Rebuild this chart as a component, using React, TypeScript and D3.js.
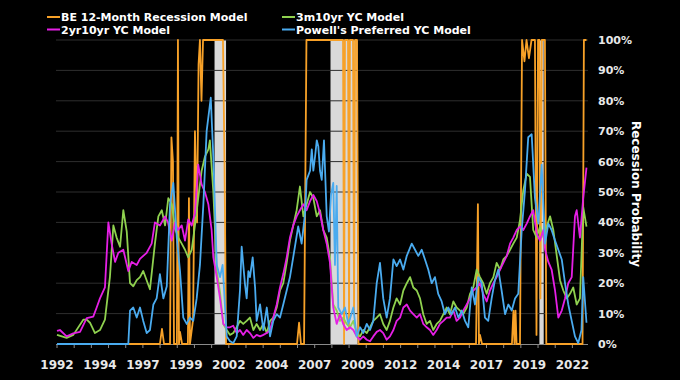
import React from "react";
import * as d3 from "d3";

// ---------- DATA ----------
const legendLabels = [
  "BE 12-Month Recession Model",
  "2yr10yr YC Model",
  "3m10yr YC Model",
  "Powell's Preferred YC Model",
];

const recessions: [number, number][] = [
  [2001.17, 2001.84],
  [2007.92, 2009.5],
  [2020.08, 2020.33],
];

const xLabelYears = [1992, 1994.5, 1997, 1999.5, 2002, 2004.5, 2007, 2009.5, 2012, 2014.5, 2017, 2019.5, 2022];
const xLabelTexts = ["1992", "1994", "1997", "1999", "2002", "2004", "2007", "2009", "2012", "2014", "2017", "2019", "2022"];
const yTicks = [0, 10, 20, 30, 40, 50, 60, 70, 80, 90, 100];

// BE 12-Month Recession Model (orange)
const beModel: [number, number][] = [
  [1992.0, 0], [1997.99, 0], [1998.11, 5], [1998.23, 0], [1998.58, 0], [1998.66, 68], [1998.75, 60], [1998.81, 0],
  [1998.98, 0], [1999.04, 100], [1999.1, 0], [1999.16, 4], [1999.28, 0], [1999.62, 0], [1999.68, 48], [1999.74, 0],
  [1999.92, 8], [2000.03, 70], [2000.15, 40], [2000.24, 92], [2000.32, 100], [2000.41, 80], [2000.5, 100],
  [2001.66, 100], [2001.75, 60], [2001.84, 0], [2005.97, 0], [2006.09, 7], [2006.2, 0], [2006.38, 0], [2006.52, 100],
  [2008.65, 100], [2008.71, 0], [2008.76, 100], [2008.94, 100], [2009.0, 5], [2009.05, 100], [2009.23, 100],
  [2009.29, 10], [2009.35, 100], [2009.46, 100], [2009.55, 0], [2016.39, 0], [2016.5, 46], [2016.56, 0],
  [2016.62, 3], [2016.74, 0], [2018.48, 0], [2018.57, 11], [2018.63, 0], [2018.69, 11], [2018.75, 0],
  [2018.95, 0], [2019.07, 100], [2019.21, 93], [2019.33, 100], [2019.47, 94], [2019.62, 100], [2019.82, 100],
  [2019.91, 3], [2020.0, 100], [2020.08, 100], [2020.14, 15], [2020.22, 100], [2020.4, 100], [2020.48, 0],
  [2022.59, 0], [2022.67, 100], [2022.82, 100],
];

// 3m10yr YC Model (green)
const threeMTen: [number, number][] = [
  [1992.0, 3], [1992.56, 2], [1992.95, 3], [1993.53, 8], [1993.73, 8], [1993.92, 7], [1994.21, 3.6], [1994.5, 4.6],
  [1994.79, 8], [1995.08, 22], [1995.28, 39], [1995.47, 35], [1995.67, 32], [1995.86, 44], [1996.06, 37],
  [1996.25, 20], [1996.44, 19], [1996.64, 21], [1996.83, 22], [1997.02, 24], [1997.41, 18], [1997.7, 33],
  [1997.9, 42], [1998.1, 44], [1998.29, 39], [1998.48, 48], [1998.68, 46], [1998.87, 38], [1999.06, 35],
  [1999.26, 33], [1999.45, 31], [1999.64, 28.5], [1999.84, 31], [2000.03, 39], [2000.22, 48], [2000.42, 57],
  [2000.61, 61.6], [2000.81, 64], [2000.9, 67], [2001.1, 50], [2001.3, 24], [2001.49, 17], [2001.68, 6.6],
  [2001.88, 4.6], [2002.07, 3], [2002.26, 3.6], [2002.46, 5.5], [2002.65, 7.6], [2002.84, 6.6], [2003.04, 7.6],
  [2003.23, 8.7], [2003.43, 4.6], [2003.62, 6.6], [2003.82, 4.6], [2004.01, 6.6], [2004.21, 3.6], [2004.4, 7.6],
  [2004.59, 8.7], [2004.79, 12], [2004.98, 17.6], [2005.17, 20], [2005.37, 26.7], [2005.56, 34], [2005.75, 39],
  [2005.95, 44], [2006.14, 51.8], [2006.34, 42], [2006.53, 46], [2006.73, 50], [2006.92, 48], [2007.12, 42],
  [2007.31, 44], [2007.5, 37.5], [2007.7, 35], [2007.89, 28.5], [2008.08, 13], [2008.28, 11], [2008.47, 7.6],
  [2008.66, 8.7], [2008.86, 6.6], [2009.05, 5.5], [2009.25, 7.6], [2009.44, 3.6], [2009.64, 2.5], [2009.83, 4.6],
  [2010.03, 3.6], [2010.22, 5.5], [2010.41, 7.6], [2010.61, 8.7], [2010.8, 9.8], [2010.99, 6.6], [2011.19, 4.6],
  [2011.38, 7.6], [2011.58, 12], [2011.77, 15], [2011.97, 13], [2012.16, 17.6], [2012.36, 20], [2012.55, 22],
  [2012.74, 18.6], [2012.94, 17.6], [2013.13, 15], [2013.32, 9.8], [2013.52, 6.6], [2013.71, 7.6], [2013.9, 4.6],
  [2014.1, 6.6], [2014.29, 7.6], [2014.49, 9.8], [2014.68, 12], [2014.87, 9.8], [2015.07, 14], [2015.26, 12],
  [2015.46, 11], [2015.65, 9.8], [2015.85, 12], [2016.04, 16.5], [2016.23, 18.6], [2016.43, 24.5], [2016.62, 22],
  [2016.81, 20], [2017.01, 16.5], [2017.2, 20], [2017.4, 22], [2017.59, 26.7], [2017.79, 24.5], [2017.98, 27.8],
  [2018.18, 29], [2018.37, 31], [2018.56, 33], [2018.76, 35], [2018.95, 40.7], [2019.14, 50.5], [2019.34, 56],
  [2019.53, 55], [2019.72, 37.5], [2019.92, 35], [2020.11, 38.6], [2020.31, 35], [2020.5, 38.6], [2020.7, 42],
  [2020.89, 37.5], [2021.09, 29], [2021.28, 21], [2021.47, 17.6], [2021.67, 15], [2021.86, 16.5], [2022.05, 18.6],
  [2022.25, 13], [2022.44, 15], [2022.63, 45], [2022.82, 38.6],
];

// 2yr10yr YC Model (magenta)
const twoTen: [number, number][] = [
  [1992.0, 4.3], [1992.17, 4.6], [1992.56, 2.5], [1992.95, 3.5], [1993.34, 4], [1993.73, 8.5], [1994.11, 9],
  [1994.31, 12], [1994.5, 15], [1994.79, 18.6], [1994.99, 40], [1995.18, 33], [1995.38, 27], [1995.57, 30],
  [1995.86, 31], [1996.15, 24], [1996.35, 27], [1996.64, 26], [1996.83, 28], [1997.22, 30], [1997.51, 33],
  [1997.7, 40], [1997.99, 39], [1998.29, 42], [1998.46, 40], [1998.68, 34], [1998.87, 40], [1999.04, 37.5],
  [1999.26, 39], [1999.45, 34], [1999.64, 41], [1999.84, 39], [2000.03, 43], [2000.22, 59], [2000.42, 52.5],
  [2000.61, 50], [2000.81, 46], [2001.0, 37.5], [2001.1, 28.5], [2001.3, 22], [2001.49, 15], [2001.68, 6.6],
  [2001.88, 5.5], [2002.07, 5.5], [2002.26, 6], [2002.46, 3.6], [2002.65, 4.6], [2002.84, 3], [2003.04, 4.6],
  [2003.23, 3.6], [2003.43, 2], [2003.62, 3], [2003.82, 2.5], [2004.01, 3], [2004.21, 3.6], [2004.4, 4.6],
  [2004.59, 8.7], [2004.79, 13], [2004.98, 18.6], [2005.17, 23], [2005.37, 28.5], [2005.56, 35], [2005.75, 39],
  [2005.95, 42], [2006.14, 44], [2006.34, 46], [2006.53, 44], [2006.73, 47], [2006.92, 49], [2007.12, 47],
  [2007.31, 43], [2007.5, 37.5], [2007.7, 33], [2007.89, 26.7], [2008.08, 12], [2008.28, 6.6], [2008.47, 9.8],
  [2008.66, 6.6], [2008.86, 4.6], [2009.05, 5.5], [2009.25, 4.6], [2009.44, 2.5], [2009.64, 1.4], [2009.83, 2.5],
  [2010.03, 1.4], [2010.22, 0.9], [2010.41, 2.5], [2010.61, 4], [2010.8, 4.6], [2010.99, 3.6], [2011.19, 1.4],
  [2011.38, 2.5], [2011.58, 4.6], [2011.77, 7.6], [2011.97, 8.7], [2012.16, 12], [2012.36, 13], [2012.55, 11],
  [2012.74, 9.8], [2012.94, 8.7], [2013.13, 9.8], [2013.32, 6.6], [2013.52, 5.5], [2013.71, 4.6], [2013.9, 3],
  [2014.1, 4.6], [2014.29, 6.6], [2014.49, 7.6], [2014.68, 8.7], [2014.87, 8.7], [2015.07, 11], [2015.26, 7.6],
  [2015.46, 8.7], [2015.65, 11], [2015.85, 13], [2016.04, 15], [2016.23, 17.6], [2016.43, 18.6], [2016.62, 20],
  [2016.81, 16.5], [2017.01, 14], [2017.2, 17.6], [2017.4, 20], [2017.59, 22], [2017.79, 24.5], [2017.98, 26.7],
  [2018.18, 29], [2018.37, 33], [2018.56, 35], [2018.76, 37.5], [2018.95, 38.6], [2019.14, 37.5], [2019.34, 39.6],
  [2019.53, 42], [2019.72, 44], [2019.92, 36.4], [2020.11, 34], [2020.31, 37.5], [2020.41, 31], [2020.6, 27],
  [2020.79, 24.5], [2020.99, 17.6], [2021.18, 8.7], [2021.38, 11], [2021.57, 15], [2021.76, 20], [2021.96, 22],
  [2022.15, 42], [2022.25, 44], [2022.44, 35], [2022.63, 48], [2022.82, 58],
];

// Powell's Preferred YC Model (blue)
const powellModel: [number, number][] = [
  [1992.0, 0], [1996.15, 0], [1996.25, 11], [1996.44, 12], [1996.64, 8.7], [1996.83, 12], [1997.02, 7.6],
  [1997.22, 3.6], [1997.41, 4.6], [1997.61, 13], [1997.8, 15], [1997.99, 23], [1998.19, 15], [1998.39, 19],
  [1998.58, 46], [1998.77, 53], [1998.97, 35], [1999.16, 24], [1999.35, 8.7], [1999.55, 6.6], [1999.74, 8.7],
  [1999.93, 7.6], [2000.13, 15], [2000.32, 26], [2000.52, 46], [2000.71, 70], [2000.95, 81], [2001.1, 61.6],
  [2001.3, 26], [2001.49, 22], [2001.64, 26], [2001.88, 2.5], [2002.07, 0.9], [2002.26, 0.3], [2002.46, 2.5],
  [2002.65, 17.6], [2002.75, 32], [2002.94, 19.8], [2003.04, 15], [2003.14, 24], [2003.23, 22], [2003.39, 28.5],
  [2003.53, 18.6], [2003.62, 7.6], [2003.82, 13], [2004.01, 4.6], [2004.21, 12], [2004.4, 2.5], [2004.59, 7.6],
  [2004.79, 9.8], [2004.98, 8.7], [2005.17, 13], [2005.37, 17.6], [2005.56, 22], [2005.85, 32], [2006.04, 38.7],
  [2006.24, 33], [2006.44, 43], [2006.53, 54], [2006.73, 57], [2006.83, 64], [2006.92, 57], [2007.02, 61.6],
  [2007.12, 67], [2007.21, 65], [2007.31, 57], [2007.41, 54], [2007.54, 67], [2007.7, 42], [2007.83, 37],
  [2007.95, 49], [2008.08, 53], [2008.18, 26], [2008.28, 52], [2008.37, 12], [2008.57, 9.8], [2008.76, 12],
  [2008.96, 6.6], [2009.25, 12], [2009.44, 2.5], [2009.64, 5.5], [2009.83, 3.6], [2010.03, 6.6], [2010.22, 4.6],
  [2010.41, 7.6], [2010.61, 20], [2010.8, 26.7], [2010.99, 15], [2011.19, 8.7], [2011.38, 15], [2011.58, 27.8],
  [2011.77, 25.6], [2011.97, 27.8], [2012.16, 24.5], [2012.36, 29], [2012.65, 33], [2012.84, 31], [2013.03, 29],
  [2013.23, 31], [2013.42, 27.8], [2013.61, 24.5], [2013.81, 20], [2014.0, 22], [2014.19, 16.5], [2014.39, 14],
  [2014.58, 9.8], [2014.78, 12], [2014.97, 9.8], [2015.17, 12], [2015.36, 8.7], [2015.56, 11], [2015.75, 7.6],
  [2015.94, 5.5], [2016.14, 18.6], [2016.33, 13], [2016.52, 22], [2016.72, 20], [2016.91, 8.7], [2017.1, 7.6],
  [2017.3, 15], [2017.49, 21], [2017.69, 24.5], [2017.88, 17.6], [2018.08, 9.8], [2018.27, 13], [2018.47, 11],
  [2018.66, 15], [2018.85, 16.5], [2019.05, 37.5], [2019.24, 50.5], [2019.43, 68], [2019.63, 69], [2019.82, 48],
  [2020.02, 39.6], [2020.21, 59], [2020.41, 33], [2020.6, 39.6], [2020.79, 37.5], [2020.99, 34], [2021.18, 31],
  [2021.38, 27.8], [2021.57, 20], [2021.76, 13], [2021.96, 7.6], [2022.15, 2.5], [2022.34, 0.3], [2022.53, 4.6],
  [2022.63, 22], [2022.82, 7],
];

// ---------- CHART ----------
const W = 680;
const H = 380;
const FONT = "'DejaVu Sans', Verdana, sans-serif";

const colors = {
  be: "#f7a128",
  twoTen: "#e51fe5",
  threeM: "#8fd14f",
  powell: "#4aabef",
};

export default function App() {
  const x = d3.scaleLinear().domain([1992, 2022.85]).range([57, 587]);
  const y = d3.scaleLinear().domain([0, 100]).range([344, 40]);
  const line = d3
    .line<[number, number]>()
    .x((d) => x(d[0]))
    .y((d) => y(d[1]));

  const minorTicks = d3.range(1992, 2023, 1);

  const series = [
    { data: beModel, color: colors.be },
    { data: threeMTen, color: colors.threeM },
    { data: twoTen, color: colors.twoTen },
    { data: powellModel, color: colors.powell },
  ];

  const legend = [
    { label: legendLabels[0], color: colors.be, lx: 47, ly: 17 },
    { label: legendLabels[1], color: colors.twoTen, lx: 47, ly: 29.5 },
    { label: legendLabels[2], color: colors.threeM, lx: 282, ly: 17 },
    { label: legendLabels[3], color: colors.powell, lx: 282, ly: 29.5 },
  ];

  return (
    <svg
      width={W}
      height={H}
      style={{ position: "absolute", left: 0, top: 0, background: "#000" }}
      fontFamily={FONT}
    >
      <rect x={0} y={0} width={W} height={H} fill="#000" />
      {/* recession bands */}
      {recessions.map(([a, b], i) => (
        <rect key={i} x={x(a)} y={y(100)} width={x(b) - x(a)} height={y(0) - y(100)} fill="#d9d9d9" />
      ))}
      {/* gridlines */}
      {yTicks.slice(1).map((t) => (
        <line key={t} x1={56} x2={588} y1={y(t)} y2={y(t)} stroke="#2e2e2e" strokeWidth={1} />
      ))}
      {/* x axis */}
      <line x1={56} x2={588} y1={344.5} y2={344.5} stroke="#8a8a8a" strokeWidth={1} />
      {minorTicks.map((t) => (
        <line key={t} x1={x(t)} x2={x(t)} y1={344.5} y2={348} stroke="#8a8a8a" strokeWidth={1} />
      ))}
      {xLabelYears.map((t, i) => (
        <text
          key={t}
          x={x(t)}
          y={369}
          textAnchor="middle"
          fill="#e8e8e8"
          fontSize={12}
          fontWeight="bold"
        >
          {xLabelTexts[i]}
        </text>
      ))}
      {/* right axis labels */}
      {yTicks.map((t) => (
        <text key={t} x={598} y={y(t) + 4} fill="#e8e8e8" fontSize={11} fontWeight="bold">
          {t}%
        </text>
      ))}
      <text
        transform={`translate(632,194) rotate(90)`}
        textAnchor="middle"
        fill="#ffffff"
        fontSize={12}
        fontWeight="bold"
      >
        Recession Probability
      </text>
      {/* series */}
      {series.map((s, i) => (
        <path
          key={i}
          d={line(s.data) || ""}
          fill="none"
          stroke={s.color}
          strokeWidth={1.8}
          strokeLinejoin="round"
        />
      ))}
      {/* legend */}
      {legend.map((l) => (
        <g key={l.label}>
          <line x1={l.lx} x2={l.lx + 13} y1={l.ly} y2={l.ly} stroke={l.color} strokeWidth={2} />
          <text x={l.lx + 14} y={l.ly + 4} fill="#ffffff" fontSize={11} fontWeight="bold">
            {l.label}
          </text>
        </g>
      ))}
    </svg>
  );
}
